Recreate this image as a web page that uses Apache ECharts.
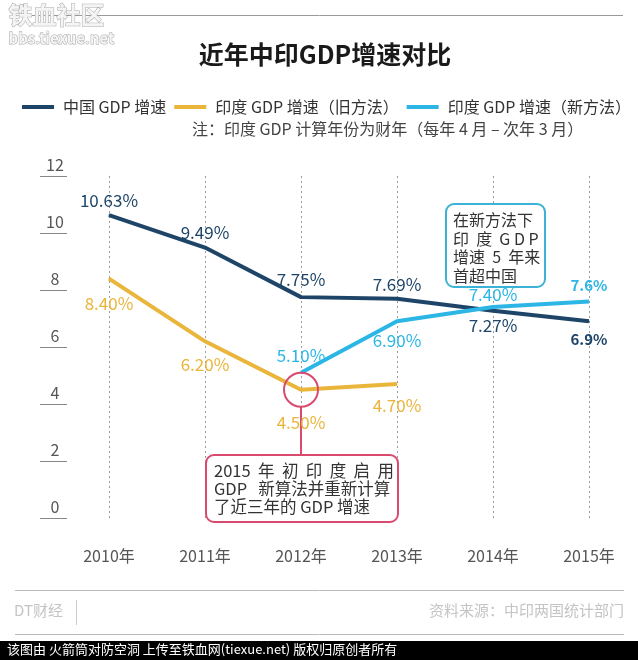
<!DOCTYPE html>
<html><head><meta charset="utf-8">
<script src="https://cdn.jsdelivr.net/npm/echarts@6/dist/echarts.min.js"></script>
<style>html,body{margin:0;padding:0;background:#fff}#c{width:638px;height:660px}</style>
</head><body><div id="c"></div>
<script>
const years = ['2010年','2011年','2012年','2013年','2014年','2015年'];
const chinaGDP = [10.63, 9.49, 7.75, 7.69, 7.27, 6.9];
const indiaOld = [8.40, 6.20, 4.50, 4.70, null, null];
const indiaNew = [null, null, 5.10, 6.90, 7.40, 7.6];
const chinaLabels = ['10.63%','9.49%','7.75%','7.69%','7.27%','6.9%'];
const oldLabels = ['8.40%','6.20%','4.50%','4.70%','',''];
const newLabels = ['','','5.10%','6.90%','7.40%','7.6%'];
const yTicks = [0,2,4,6,8,10,12];

const FF = '"Noto Sans CJK SC","Noto Sans",sans-serif';
const C_CN = '#1e4568', C_OLD = '#e9b53b', C_NEW = '#2bb6e6', C_RED = '#d94a6e';

function lbl(text, color, pos, dist, off, bold) {
  return { show: !!text, formatter: text, position: pos, distance: dist, offset: off || [0,0],
    color: color, fontFamily: FF, fontSize: bold ? 15 : 17, fontWeight: bold ? 'bold' : 'normal' };
}
const cnLabelCfg = [['top',5,[6,0]],['top',6,[2,0]],['top',9,[0,0]],['top',5,[0,0]],['bottom',6,[0,0]],['bottom',10,[0,0],true]];
const oldLabelCfg = [['bottom',16,[2,0]],['bottom',14,[2,0]],['bottom',24,[0,0]],['bottom',12,[3,0]]];
const newLabelCfg = [null,null,['top',8,[0,0]],['bottom',10,[0,0]],['top',4,[5,0]],['top',8,[0,0],true]];

function lineSeries(name, color, values, labels, cfg, extra) {
  return Object.assign({
    name: name, type: 'line', color: color, symbol: 'circle', symbolSize: 1, showSymbol: true,
    itemStyle: { color: color }, lineStyle: { width: 4, color: color }, labelLayout: { hideOverlap: false },
    data: values.map((v,i) => ({ value: v, label: (v == null || !labels[i]) ? { show: false } : lbl(labels[i], color, ...cfg[i]) }))
  }, extra || {});
}

const chart = echarts.init(document.getElementById('c'));
const option = {
  backgroundColor: '#fff',
  animation: false,
  title: { text: '近年中印GDP增速对比', left: 320, top: 37, textAlign: 'center',
    textStyle: { fontFamily: FF, fontSize: 25, fontWeight: 'bold', color: '#1a1a1a' } },
  legend: { left: 17, top: 94, itemWidth: 32, itemHeight: 4, itemGap: 8, icon: 'rect',
    textStyle: { fontFamily: FF, fontSize: 16, color: '#333', padding: [0,0,0,4] },
    data: ['中国 GDP 增速','印度 GDP 增速（旧方法）','印度 GDP 增速（新方法）'] },
  grid: { left: 109, right: 49, top: 176, bottom: 142 },
  xAxis: { type: 'category', data: years, boundaryGap: false,
    axisLine: { show: false }, axisTick: { show: false },
    axisLabel: { margin: 30, fontFamily: FF, fontSize: 16, color: '#555' },
    splitLine: { show: true, lineStyle: { type: [2,3], color: '#9a9a9a', width: 1 } } },
  yAxis: { type: 'value', min: 0, max: 12, interval: 2, offset: 42,
    axisLine: { show: false },
    axisTick: { show: true, inside: false, length: 27, lineStyle: { color: '#888', width: 1 } },
    axisLabel: { margin: 12, align: 'center', verticalAlign: 'bottom', padding: [0,0,3,0],
      fontFamily: FF, fontSize: 16, color: '#555',
      formatter: v => yTicks.indexOf(v) >= 0 ? String(v) : '' },
    splitLine: { show: false } },
  series: [
    lineSeries('中国 GDP 增速', C_CN, chinaGDP, chinaLabels, cnLabelCfg),
    lineSeries('印度 GDP 增速（旧方法）', C_OLD, indiaOld, oldLabels, oldLabelCfg, {
      markPoint: { symbol: 'circle', symbolSize: 34, silent: true, label: { show: false },
        itemStyle: { color: 'rgba(0,0,0,0)', borderColor: C_RED, borderWidth: 2 },
        data: [{ coord: [2, indiaOld[2]] }] } }),
    lineSeries('印度 GDP 增速（新方法）', C_NEW, indiaNew, newLabels, newLabelCfg)
  ]
};
chart.setOption(option);

const circ = chart.convertToPixel({ gridIndex: 0 }, [2, indiaOld[2]]);
chart.setOption({
  graphic: [
    { type: 'line', shape: { x1: 16, y1: 15.5, x2: 623, y2: 15.5 }, style: { stroke: '#999', lineWidth: 1 } },
    { type: 'text', left: 8, top: 2, style: { text: '铁血社区', fontFamily: FF, fontSize: 24, fontWeight: 'bold', fill: '#f4f4f4', stroke: '#a8a8a8', lineWidth: 1 } },
    { type: 'text', left: 8, top: 30, style: { text: 'bbs.tiexue.net', fontFamily: FF, fontSize: 15, fontWeight: 'bold', fill: '#f4f4f4', stroke: '#a8a8a8', lineWidth: 1 } },
    { type: 'text', left: 192, top: 121, style: { text: '注：印度 GDP 计算年份为财年（每年 4 月 – 次年 3 月）', fontFamily: FF, fontSize: 16, fill: '#444' } },
    { type: 'line', z: 1, shape: { x1: circ[0], y1: circ[1] + 17, x2: circ[0], y2: 455 }, style: { stroke: C_RED, lineWidth: 2 } },
    { type: 'rect', z: 10, shape: { x: 206, y: 455, width: 192, height: 67, r: 8 }, style: { fill: '#fff', stroke: C_RED, lineWidth: 2 } },
    { type: 'text', z: 11, left: 214, top: 462, style: { text: '2015  年  初  印  度  启  用\nGDP   新算法并重新计算\n了近三年的 GDP 增速', fontFamily: FF, fontSize: 16.5, lineHeight: 18, fill: '#333' } },
    { type: 'rect', z: 10, shape: { x: 446, y: 204, width: 99, height: 83, r: 8 }, style: { fill: '#fff', stroke: '#3bb2d6', lineWidth: 2 } },
    { type: 'text', z: 11, left: 453, top: 211, style: { text: '在新方法下\n印  度  G D P\n增速  5  年来\n首超中国', fontFamily: FF, fontSize: 16, lineHeight: 18.5, fill: '#333' } },
    { type: 'line', shape: { x1: 15, y1: 590.5, x2: 624, y2: 590.5 }, style: { stroke: '#bbb', lineWidth: 1 } },
    { type: 'line', shape: { x1: 15, y1: 634.5, x2: 624, y2: 634.5 }, style: { stroke: '#bbb', lineWidth: 1 } },
    { type: 'line', shape: { x1: 76.5, y1: 600, x2: 76.5, y2: 625 }, style: { stroke: '#ccc', lineWidth: 1 } },
    { type: 'text', left: 14, top: 603, style: { text: 'DT财经', fontFamily: FF, fontSize: 15, fill: '#c4c4c4' } },
    { type: 'text', right: 14, top: 603, style: { text: '资料来源：中印两国统计部门', fontFamily: FF, fontSize: 15, fill: '#c4c4c4' } },
    { type: 'rect', shape: { x: 0, y: 641, width: 638, height: 19 }, style: { fill: '#000' } },
    { type: 'text', left: 7, top: 643, style: { text: '该图由 火箭筒对防空洞 上传至铁血网(tiexue.net) 版权归原创者所有', fontFamily: FF, fontSize: 13, fill: '#fff' } }
  ]
});
</script></body></html>
